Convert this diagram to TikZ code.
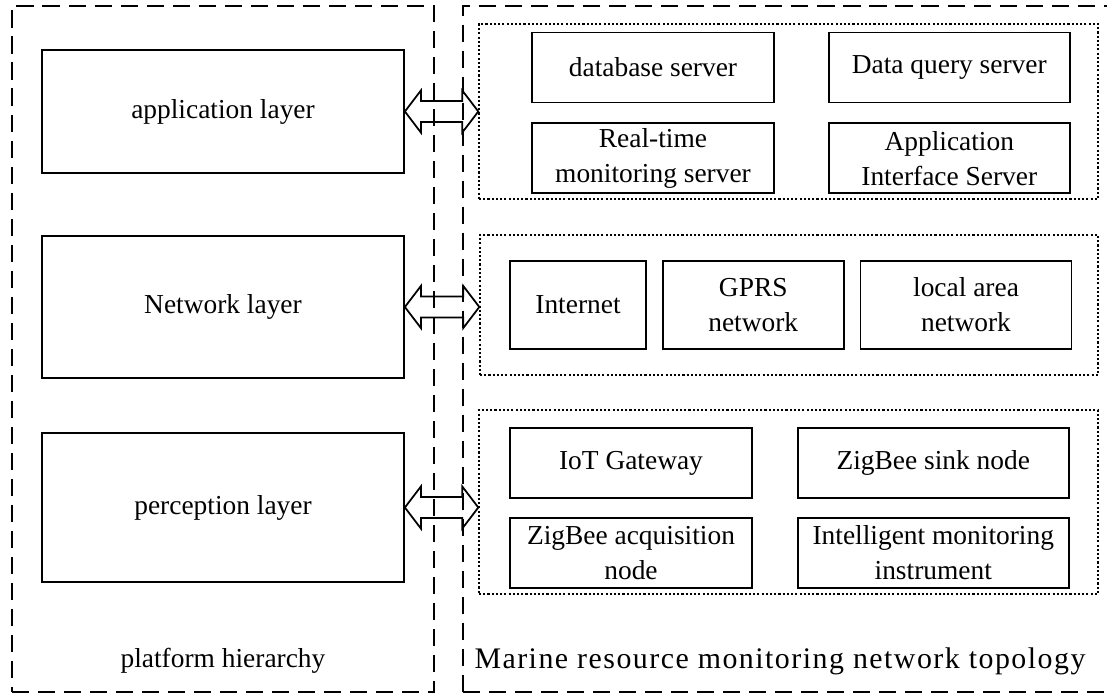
\documentclass[tikz,border=0pt]{standalone}
\usepackage{fontspec}
\setmainfont{Liberation Serif}
\usetikzlibrary{positioning,calc}

\begin{document}
\begin{tikzpicture}[
  every node/.style={font=\fontsize{15.6}{19.9}\selectfont},
  zone/.style={draw, line width=1pt, dash pattern=on 9.7pt off 5.1pt, minimum height=13.72cm},
  cluster/.style={draw, line width=0.8pt, dash pattern=on 1.2pt off 1.2pt},
  layerbox/.style={draw, line width=1pt, minimum width=7.24cm},
  unitbox/.style={draw, line width=1pt, align=center, minimum height=1.4cm, inner sep=1pt},
  dualarrow/.style={line width=1pt, line join=miter, to path={
    (\tikztostart) -- ++(0.32,0.42) -- ++(0,-0.21)
    -- ($(\tikztotarget)+(-0.32,0.21)$) -- ++(0,0.21) -- (\tikztotarget)
    -- ++(-0.32,-0.42) -- ++(0,0.21)
    -- ($(\tikztostart)+(0.32,-0.21)$) -- ++(0,-0.21) -- cycle}},
]
  \useasboundingbox (0,0) rectangle (22.14,-13.86);
  \clip (0,0) rectangle (22.14,-13.86);

  % two outer frames
  \node[zone, minimum width=8.44cm] (hier) at (4.46,-6.98) {};
  \node[zone, minimum width=13.24cm] (topo) at (15.88,-6.98) {};
  \node[anchor=base] (hiername) at ($(hier.south)+(0,0.5)$) {platform hierarchy};
  \node[anchor=base, font=\fontsize{17}{20}\selectfont] (toponame) at (15.6,-13.36)
    {\addfontfeature{LetterSpace=5}Marine resource monitoring network topology};

  % platform layers
  \node[layerbox, minimum height=2.46cm] (app) at (4.46,-2.23) {application layer};
  \node[layerbox, minimum height=2.84cm] (net) at (4.46,-6.14) {Network layer};
  \node[layerbox, minimum height=2.98cm] (perc) at (4.46,-10.15) {perception layer};

  % dotted groups
  \node[cluster, minimum width=12.38cm, minimum height=3.5cm] (grpapp) at (15.77,-2.23) {};
  \node[cluster, minimum width=12.36cm, minimum height=2.8cm] (grpnet) at (15.78,-6.10) {};
  \node[cluster, minimum width=12.38cm, minimum height=3.68cm] (grpperc) at (15.77,-10.04) {};

  % servers
  \node[unitbox, minimum width=4.84cm] (db) at (13.06,-1.35) {database server};
  \node[unitbox, minimum width=4.84cm, below=0.38cm of db] (rt) {Real-time\\monitoring server};
  \node[unitbox, minimum width=4.82cm, right=1.06cm of db] (dq) {Data query server};
  \node[unitbox, minimum width=4.82cm, below=0.38cm of dq] (ai) {Application\\Interface Server};

  % networks
  \node[unitbox, minimum width=2.72cm, minimum height=1.76cm] (inet) at (11.56,-6.10) {Internet};
  \node[unitbox, minimum width=3.62cm, minimum height=1.76cm, right=0.3cm of inet] (gprs) {GPRS\\network};
  \node[unitbox, minimum width=4.22cm, minimum height=1.76cm, right=0.3cm of gprs] (lan) {local area\\network};

  % sensing side
  \node[unitbox, minimum width=4.84cm] (iot) at (12.62,-9.26) {IoT Gateway};
  \node[unitbox, minimum width=4.84cm, below=0.36cm of iot] (zacq) {ZigBee acquisition\\node};
  \node[unitbox, minimum width=5.42cm, right=0.88cm of iot] (sink) {ZigBee sink node};
  \node[unitbox, minimum width=5.42cm, below=0.36cm of sink] (intel) {Intelligent monitoring\\instrument};

  % layer <-> group links
  \draw[dualarrow] (app.east) to (app.east -| grpapp.west);
  \draw[dualarrow] (net.east) to (net.east -| grpnet.west);
  \draw[dualarrow] (perc.east) to (perc.east -| grpperc.west);
\end{tikzpicture}
\end{document}
